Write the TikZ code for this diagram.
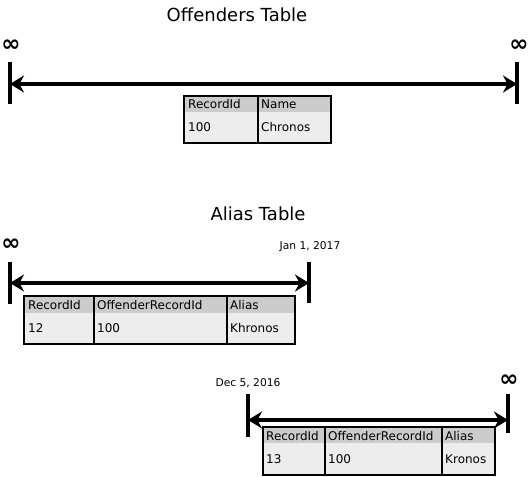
\documentclass[tikz,border=0pt]{standalone}
\usepackage{fontspec}
\setmainfont{DejaVu Sans}
\usepackage{tikz}
\usetikzlibrary{arrows.meta}

\tikzset{
  bar/.style={line width=3.5pt},
  span/.style={line width=3.5pt, {Stealth[length=14pt,width=17pt]}-{Stealth[length=14pt,width=17pt]}},
  celltext/.style={anchor=west, inner sep=0pt, font=\fontsize{12}{14}\selectfont},
  title/.style={font=\fontsize{18}{21}\selectfont},
  inf/.style={font=\fontsize{23}{23}\selectfont\bfseries},
  date/.style={font=\fontsize{10.7}{12}\selectfont},
  frame/.style={line width=1.8pt}
}

\begin{document}
\begin{tikzpicture}[x=1pt,y=-1pt]
  \useasboundingbox (0,0) rectangle (531,477);

  % Offenders table
  \node[title] (offTitle) at (237,15) {Offenders Table};
  \node[inf] (offInfL) at (11,46) {∞};
  \node[inf] (offInfR) at (519,46) {∞};
  \coordinate (offLT) at (10,62);  \coordinate (offLB) at (10,104);
  \coordinate (offRT) at (517,62); \coordinate (offRB) at (517,104);
  \coordinate (offL) at (10,84);   \coordinate (offR) at (517,84);
  \draw[bar] (offLT) -- (offLB);
  \draw[bar] (offRT) -- (offRB);
  \draw[span] (offL) -- (offR);

  \fill[black!20] (184,96) rectangle (331,112);
  \fill[black!7] (184,112) rectangle (331,143);
  \draw[frame] (184,96) rectangle (331,143);
  \draw[frame] (258,96) -- (258,143);
  \node[celltext] (offH1) at (188,104) {RecordId};
  \node[celltext] (offH2) at (261,104) {Name};
  \node[celltext] (offD1) at (188,127) {100};
  \node[celltext] (offD2) at (261,127) {Chronos};

  % Alias table, first row
  \node[title] (aliasTitle) at (258,214) {Alias Table};
  \node[inf] (aliasInfL) at (11,245) {∞};
  \node[date] (aliasTo) at (310,247) {Jan 1, 2017};
  \coordinate (aLT) at (10,262);  \coordinate (aLB) at (10,304);
  \coordinate (aRT) at (309,262); \coordinate (aRB) at (309,303);
  \coordinate (aL) at (10,283);   \coordinate (aR) at (309,283);
  \draw[bar] (aLT) -- (aLB);
  \draw[bar] (aRT) -- (aRB);
  \draw[span] (aL) -- (aR);

  \fill[black!20] (24,296) rectangle (295,313);
  \fill[black!7] (24,313) rectangle (295,344);
  \draw[frame] (24,296) rectangle (295,344);
  \draw[frame] (94,296) -- (94,344);
  \draw[frame] (227,296) -- (227,344);
  \node[celltext] (aH1) at (28,305) {RecordId};
  \node[celltext] (aH2) at (97,305) {OffenderRecordId};
  \node[celltext] (aH3) at (230,305) {Alias};
  \node[celltext] (aD1) at (28,328) {12};
  \node[celltext] (aD2) at (97,328) {100};
  \node[celltext] (aD3) at (230,328) {Khronos};

  % Alias table, second row
  \node[date] (bFrom) at (248,383) {Dec 5, 2016};
  \node[inf] (bInfR) at (509,381) {∞};
  \coordinate (bLT) at (248,394); \coordinate (bLB) at (248,437);
  \coordinate (bRT) at (508,394); \coordinate (bRB) at (508,433);
  \coordinate (bL) at (248,420);  \coordinate (bR) at (508,420);
  \draw[bar] (bLT) -- (bLB);
  \draw[bar] (bRT) -- (bRB);
  \draw[span] (bL) -- (bR);

  \fill[black!20] (263,427) rectangle (495,443);
  \fill[black!7] (263,443) rectangle (495,475);
  \draw[frame] (263,427) rectangle (495,475);
  \draw[frame] (325,427) -- (325,475);
  \draw[frame] (442,427) -- (442,475);
  \node[celltext] (bH1) at (266,436) {RecordId};
  \node[celltext] (bH2) at (328,436) {OffenderRecordId};
  \node[celltext] (bH3) at (445,436) {Alias};
  \node[celltext] (bD1) at (266,459) {13};
  \node[celltext] (bD2) at (328,459) {100};
  \node[celltext] (bD3) at (445,459) {Kronos};
\end{tikzpicture}
\end{document}
